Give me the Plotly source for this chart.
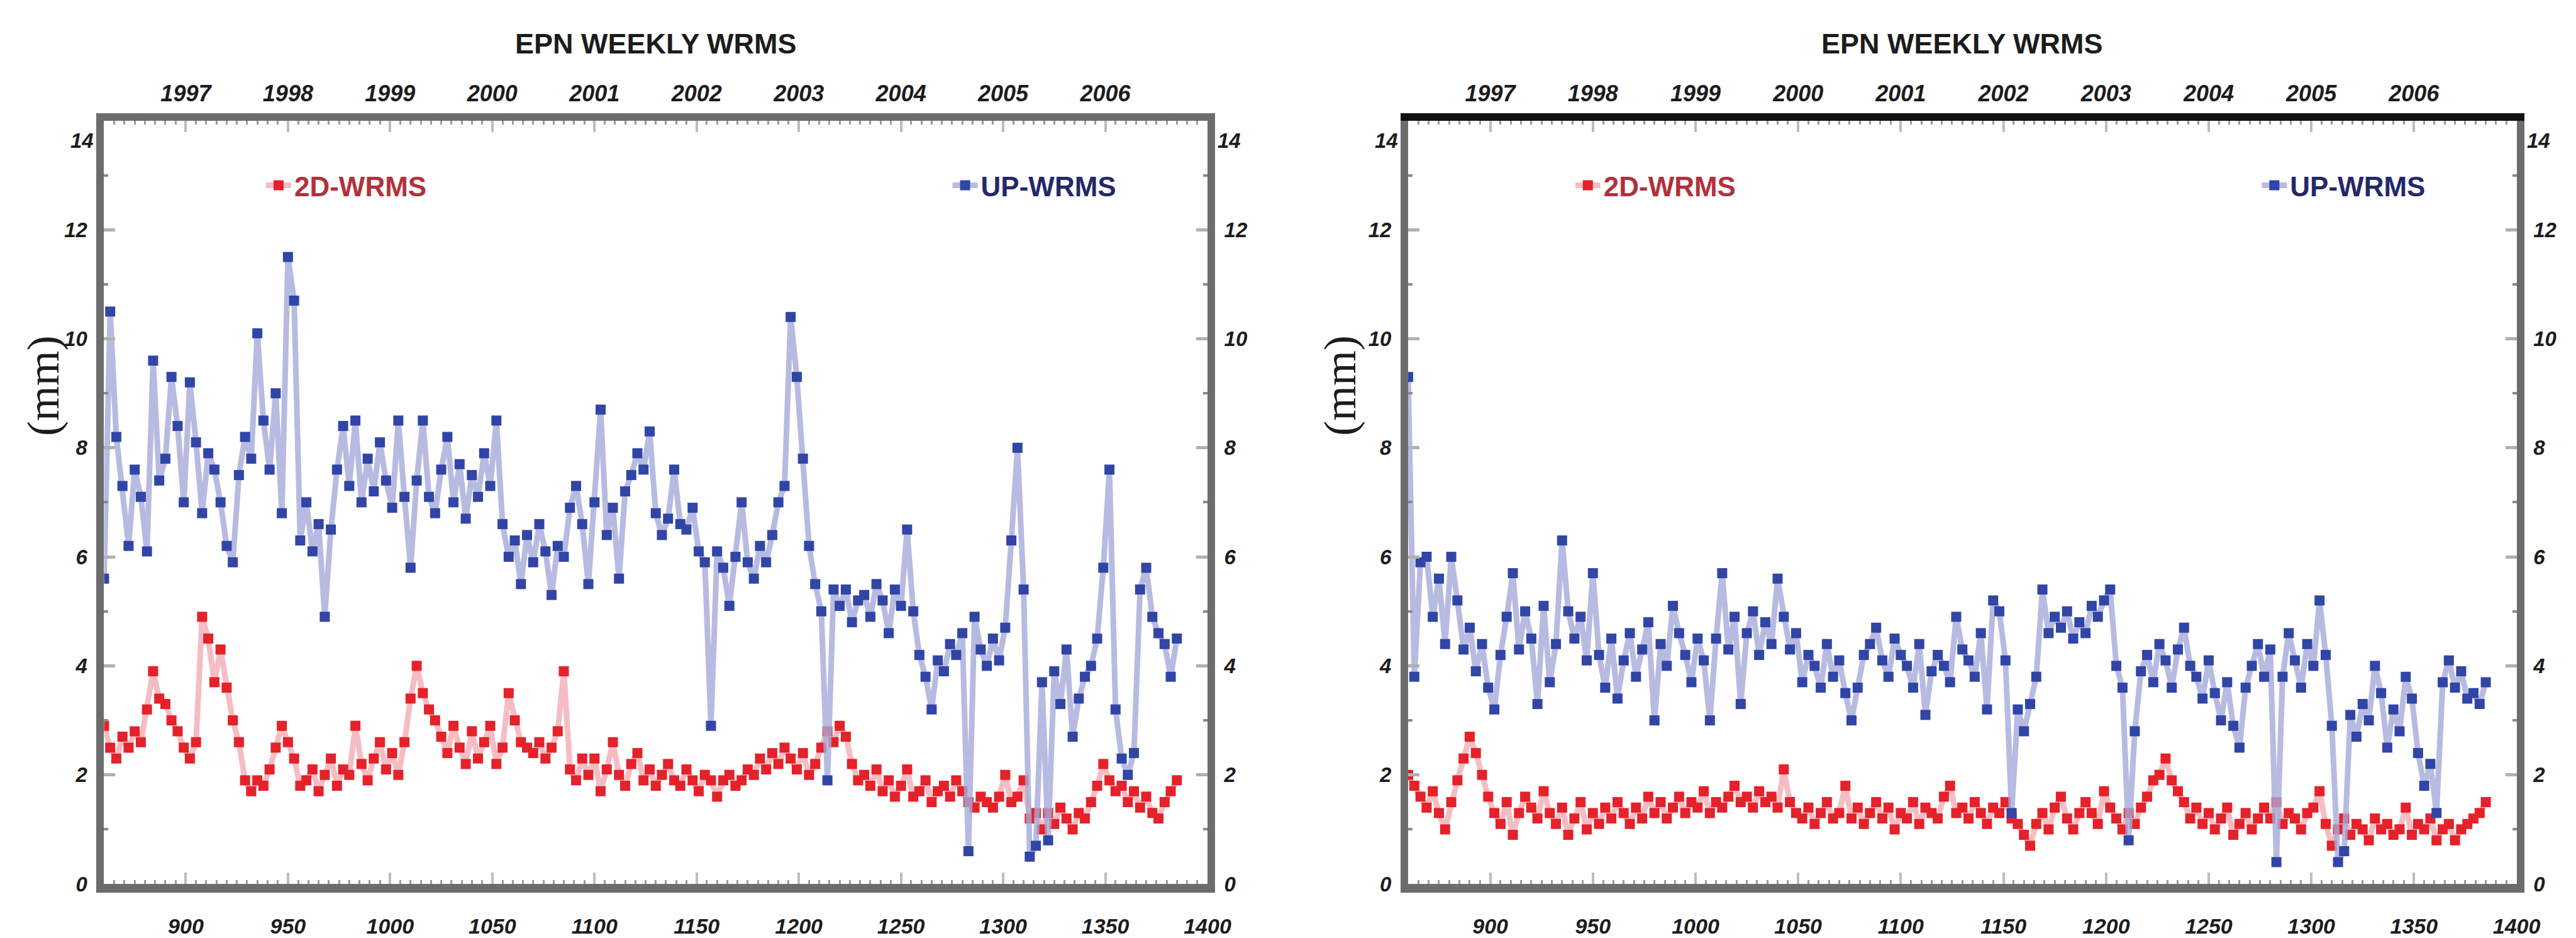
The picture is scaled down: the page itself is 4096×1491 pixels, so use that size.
import plotly.graph_objects as go

# ---------------- data (GPS week, mm) ----------------
weeks = list(range(860, 1388, 3))

left_up = [
    5.6, 10.5, 8.2, 7.3, 6.2, 7.6, 7.1, 6.1, 9.6, 7.4,
    7.8, 9.3, 8.4, 7.0, 9.2, 8.1, 6.8, 7.9, 7.6, 7.0,
    6.2, 5.9, 7.5, 8.2, 7.8, 10.1, 8.5, 7.6, 9.0, 6.8,
    11.5, 10.7, 6.3, 7.0, 6.1, 6.6, 4.9, 6.5, 7.6, 8.4,
    7.3, 8.5, 7.0, 7.8, 7.2, 8.1, 7.4, 6.9, 8.5, 7.1,
    5.8, 7.4, 8.5, 7.1, 6.8, 7.6, 8.2, 7.0, 7.7, 6.7,
    7.5, 7.1, 7.9, 7.3, 8.5, 6.6, 6.0, 6.3, 5.5, 6.4,
    5.9, 6.6, 6.1, 5.3, 6.2, 6.0, 6.9, 7.3, 6.6, 5.5,
    7.0, 8.7, 6.4, 6.9, 5.6, 7.2, 7.5, 7.9, 7.6, 8.3,
    6.8, 6.4, 6.7, 7.6, 6.6, 6.5, 6.9, 6.1, 5.9, 2.9,
    6.1, 5.8, 5.1, 6.0, 7.0, 5.9, 5.6, 6.2, 5.9, 6.4,
    7.0, 7.3, 10.4, 9.3, 7.8, 6.2, 5.5, 5.0, 1.9, 5.4,
    5.1, 5.4, 4.8, 5.2, 5.3, 4.9, 5.5, 5.2, 4.6, 5.4,
    5.1, 6.5, 5.0, 4.2, 3.8, 3.2, 4.1, 3.9, 4.4, 4.2,
    4.6, 0.6, 4.9, 4.3, 4.0, 4.5, 4.1, 4.7, 6.3, 8.0,
    5.4, 0.5, 0.7, 3.7, 0.8, 3.9, 3.3, 4.3, 2.7, 3.4,
    3.8, 4.0, 4.5, 5.8, 7.6, 3.2, 2.3, 2.0, 2.4, 5.4,
    5.8, 4.9, 4.6, 4.4, 3.8, 4.5,
]

left_2d = [
    2.9, 2.5, 2.3, 2.7, 2.5, 2.8, 2.6, 3.2, 3.9, 3.4,
    3.3, 3.0, 2.8, 2.5, 2.3, 2.6, 4.9, 4.5, 3.7, 4.3,
    3.6, 3.0, 2.6, 1.9, 1.7, 1.9, 1.8, 2.1, 2.5, 2.9,
    2.6, 2.3, 1.8, 1.9, 2.1, 1.7, 2.0, 2.3, 1.8, 2.1,
    2.0, 2.9, 2.2, 1.9, 2.3, 2.6, 2.1, 2.4, 2.0, 2.6,
    3.4, 4.0, 3.5, 3.2, 3.0, 2.7, 2.4, 2.9, 2.5, 2.2,
    2.8, 2.3, 2.6, 2.9, 2.2, 2.5, 3.5, 3.0, 2.6, 2.5,
    2.4, 2.6, 2.3, 2.5, 2.8, 3.9, 2.1, 1.9, 2.3, 2.0,
    2.3, 1.7, 2.1, 2.6, 2.0, 1.8, 2.2, 2.4, 1.9, 2.1,
    1.8, 2.0, 2.2, 1.9, 1.8, 2.1, 1.9, 1.7, 2.0, 1.9,
    1.6, 1.9, 2.0, 1.8, 1.9, 2.1, 2.0, 2.3, 2.1, 2.4,
    2.2, 2.5, 2.3, 2.1, 2.4, 2.0, 2.2, 2.5, 2.8, 2.6,
    2.9, 2.7, 2.2, 1.9, 2.0, 1.8, 2.1, 1.7, 1.9, 1.6,
    1.8, 2.1, 1.6, 1.7, 1.9, 1.5, 1.7, 1.8, 1.6, 1.9,
    1.7, 1.5, 1.4, 1.6, 1.5, 1.4, 1.6, 2.0, 1.5, 1.6,
    1.9, 1.2, 1.3, 1.0, 1.3, 1.1, 1.4, 1.2, 1.0, 1.3,
    1.2, 1.5, 1.8, 2.2, 1.9, 1.7, 1.8, 1.5, 1.7, 1.4,
    1.6, 1.3, 1.2, 1.5, 1.7, 1.9,
]

right_up = [
    9.3, 3.8, 5.9, 6.0, 4.9, 5.6, 4.4, 6.0, 5.2, 4.3,
    4.7, 3.9, 4.4, 3.6, 3.2, 4.2, 4.9, 5.7, 4.3, 5.0,
    4.5, 3.3, 5.1, 3.7, 4.4, 6.3, 5.0, 4.5, 4.9, 4.1,
    5.7, 4.2, 3.6, 4.5, 3.4, 4.1, 4.6, 3.8, 4.3, 4.8,
    3.0, 4.4, 4.0, 5.1, 4.6, 4.2, 3.7, 4.5, 4.1, 3.0,
    4.5, 5.7, 4.3, 4.9, 3.3, 4.6, 5.0, 4.2, 4.8, 4.4,
    5.6, 4.9, 4.3, 4.6, 3.7, 4.2, 4.0, 3.6, 4.4, 3.8,
    4.1, 3.5, 3.0, 3.6, 4.2, 4.4, 4.7, 4.1, 3.8, 4.5,
    4.2, 4.0, 3.6, 4.4, 3.1, 3.9, 4.2, 4.0, 3.7, 4.9,
    4.3, 4.1, 3.8, 4.6, 3.2, 5.2, 5.0, 4.1, 1.3, 3.2,
    2.8, 3.3, 3.8, 5.4, 4.6, 4.9, 4.7, 5.0, 4.5, 4.8,
    4.6, 5.1, 4.9, 5.2, 5.4, 4.0, 3.6, 0.8, 2.8, 3.9,
    4.2, 3.7, 4.4, 4.1, 3.6, 4.3, 4.7, 4.0, 3.8, 3.4,
    4.1, 3.5, 3.0, 3.7, 2.9, 2.5, 3.6, 4.0, 4.4, 3.8,
    4.3, 0.4, 3.8, 4.6, 4.1, 3.6, 4.4, 4.0, 5.2, 4.2,
    2.9, 0.4, 0.6, 3.1, 2.7, 3.3, 3.0, 4.0, 3.5, 2.5,
    3.2, 2.8, 3.8, 3.4, 2.4, 1.8, 2.2, 1.3, 3.7, 4.1,
    3.6, 3.9, 3.4, 3.5, 3.3, 3.7,
]

right_2d = [
    2.0, 1.8, 1.6, 1.4, 1.7, 1.3, 1.0, 1.5, 1.9, 2.3,
    2.7, 2.4, 2.0, 1.6, 1.3, 1.1, 1.5, 0.9, 1.3, 1.6,
    1.4, 1.2, 1.7, 1.3, 1.1, 1.4, 0.9, 1.2, 1.5, 1.0,
    1.3, 1.1, 1.4, 1.2, 1.5, 1.3, 1.1, 1.4, 1.2, 1.6,
    1.3, 1.5, 1.2, 1.4, 1.6, 1.3, 1.5, 1.4, 1.7, 1.3,
    1.5, 1.4, 1.6, 1.8, 1.5, 1.6, 1.4, 1.7, 1.5, 1.6,
    1.4, 2.1, 1.5, 1.3, 1.2, 1.4, 1.1, 1.3, 1.5, 1.2,
    1.3, 1.8, 1.2, 1.4, 1.1, 1.3, 1.5, 1.2, 1.4, 1.0,
    1.3, 1.2, 1.5, 1.1, 1.4, 1.3, 1.2, 1.6, 1.8, 1.3,
    1.4, 1.2, 1.5, 1.3, 1.1, 1.4, 1.3, 1.5, 1.2, 1.1,
    0.9, 0.7, 1.1, 1.3, 1.0, 1.4, 1.6, 1.2, 1.0, 1.3,
    1.5, 1.3, 1.1, 1.7, 1.4, 1.2, 1.0, 1.3, 1.1, 1.4,
    1.6, 1.9, 2.0, 2.3, 1.9, 1.7, 1.5, 1.2, 1.4, 1.1,
    1.3, 1.0, 1.2, 1.4, 0.9, 1.1, 1.3, 1.0, 1.2, 1.4,
    1.2, 1.5, 1.1, 1.3, 1.2, 1.0, 1.3, 1.4, 1.7, 1.1,
    0.7, 1.0, 1.2, 0.9, 1.1, 1.0, 0.8, 1.2, 1.0, 1.1,
    0.9, 1.0, 1.4, 0.9, 1.1, 1.0, 1.2, 0.8, 1.0, 1.1,
    0.8, 1.0, 1.1, 1.2, 1.3, 1.5,
]

week_ticks = [900, 950, 1000, 1050, 1100, 1150, 1200, 1250, 1300, 1350, 1400]
year_tick_weeks = [900, 950, 1000, 1050, 1100, 1150, 1200, 1250, 1300, 1350]
year_labels = ["1997", "1998", "1999", "2000", "2001", "2002", "2003", "2004", "2005", "2006"]
mm_ticks = [0, 2, 4, 6, 8, 10, 12, 14]
mm_labels = ["0", "2", "4", "6", "8", "10", "12", ""]
top_mm_label = "14"

# ---------------- styling ----------------
W, H = 4096, 1491
BLUE_M, BLUE_L = "#3145a6", "rgba(165,170,218,0.8)"
RED_M, RED_L = "#e5212a", "rgba(242,172,180,0.8)"
FRAME = "#6c6c6c"
SANS = "Liberation Sans, Arial, sans-serif"

def tfont(size):
    return dict(family=SANS, size=size, color="#1c1c1c", weight="bold", style="italic")

dom_left = [167 / W, 1938 / W]
dom_right = [2260 / W, 4039 / W]
ydom = [1 - 1428 / H, 1 - 195 / H]

fig = go.Figure()

def add_series(x, y, xa, ya, name, mcol, lcol, legend):
    fig.add_trace(go.Scatter(
        x=x, y=y, xaxis=xa, yaxis=ya, name=name, mode="lines+markers",
        line=dict(color=lcol, width=9),
        marker=dict(color=mcol, size=16, symbol="square"),
        legend=legend, showlegend=True))

add_series(weeks, left_2d, "x", "y", "2D-WRMS", RED_M, RED_L, "legend")
add_series(weeks, left_up, "x", "y", "UP-WRMS", BLUE_M, BLUE_L, "legend2")
add_series(weeks, right_2d, "x3", "y3", "2D-WRMS", RED_M, RED_L, "legend3")
add_series(weeks, right_up, "x3", "y3", "UP-WRMS", BLUE_M, BLUE_L, "legend4")

def bottom_axis(dom, anchor):
    return dict(domain=dom, anchor=anchor, range=[860, 1400], showgrid=False, zeroline=False,
                showline=True, linewidth=14, linecolor=FRAME,
                tickvals=week_ticks, ticks="inside", ticklen=18, tickwidth=4, tickcolor="#bdbdbd",
                tickfont=tfont(34), ticklabelstandoff=24,
                minor=dict(dtick=5, ticks="inside", ticklen=6, tickcolor="#9a9a9a", tickwidth=3))

def top_axis(over, anchor, lcol):
    return dict(overlaying=over, anchor=anchor, side="top", range=[860, 1400], showgrid=False,
                zeroline=False, showline=True, linewidth=12, linecolor=lcol,
                tickvals=year_tick_weeks, ticktext=year_labels, ticks="inside", ticklen=18,
                tickwidth=4, tickcolor="#bdbdbd", tickfont=tfont(36), ticklabelstandoff=4,
                minor=dict(dtick=5, ticks="inside", ticklen=6, tickcolor="#9a9a9a", tickwidth=3))

def left_y(anchor):
    return dict(domain=ydom, anchor=anchor, range=[0, 14], showgrid=False, zeroline=False,
                showline=True, linewidth=12, linecolor=FRAME, tickvals=mm_ticks,
                ticktext=mm_labels, ticks="inside", ticklen=18, tickwidth=5, tickcolor="#b0b0b0",
                tickfont=tfont(33), ticklabelstandoff=8,
                minor=dict(dtick=1, ticks="inside", ticklen=7, tickcolor="#8a8a8a", tickwidth=4))

def right_y(over, anchor):
    d = left_y(anchor)
    d.pop("domain")
    d.update(overlaying=over, side="right")
    return d

fig.update_layout(
    width=W, height=H, margin=dict(l=0, r=0, t=0, b=0),
    paper_bgcolor="white", plot_bgcolor="white",
    xaxis=bottom_axis(dom_left, "y"),
    xaxis2=top_axis("x", "y", FRAME),
    yaxis=left_y("x"),
    yaxis2=right_y("y", "x"),
    xaxis3=bottom_axis(dom_right, "y3"),
    xaxis4=top_axis("x3", "y3", "#101010"),
    yaxis3=left_y("x3"),
    yaxis4=right_y("y3", "x3"),
)
# invisible traces so the overlay axes are drawn
for xa, ya in [("x2", "y"), ("x", "y2"), ("x4", "y3"), ("x3", "y4")]:
    fig.add_trace(go.Scatter(x=[None], y=[None], xaxis=xa, yaxis=ya, showlegend=False,
                             hoverinfo="skip"))

# the "14" labels sit a little below their tick in the original
for xd, ya, side in [("x domain", "y", "l"), ("x domain", "y", "r"),
                     ("x3 domain", "y3", "l"), ("x3 domain", "y3", "r")]:
    fig.add_annotation(text=top_mm_label, xref=xd, yref=ya, x=0 if side == "l" else 1,
                       y=mm_ticks[-1] - 0.36, showarrow=False,
                       xanchor="right" if side == "l" else "left", yanchor="middle",
                       xshift=-14 if side == "l" else 14, font=tfont(33))

LEGFONT = dict(family=SANS, size=44, weight="bold")
def leg(x, y, color):
    return dict(x=x, y=y, xanchor="left", yanchor="middle", bgcolor="rgba(0,0,0,0)",
                font=dict(LEGFONT, color=color), itemwidth=40)

fig.update_layout(
    legend=leg(0.103, 0.799, "#b3303b"),
    legend2=leg(0.372, 0.799, "#23286b"),
    legend3=leg(0.616, 0.799, "#b3303b"),
    legend4=leg(0.885, 0.799, "#23286b"),
)

TITLEFONT = dict(family=SANS, size=45, color="#1c1c1c", weight="bold")
for cx in [(dom_left[0] + dom_left[1]) / 2, (dom_right[0] + dom_right[1]) / 2]:
    fig.add_annotation(text="EPN WEEKLY WRMS", x=cx, y=1 - 71 / H, xref="paper", yref="paper",
                       showarrow=False, font=TITLEFONT, xanchor="center", yanchor="middle")

for mx in [70 / W, 2151 / W]:
    fig.add_annotation(text="(mm)", x=mx, y=1 - 623 / H, xref="paper", yref="paper",
                       showarrow=False, textangle=-90, xanchor="center", yanchor="middle",
                       font=dict(family="Liberation Serif, Times New Roman, serif", size=72,
                                 color="#1c1c1c"))

fig.write_html("out.html")
